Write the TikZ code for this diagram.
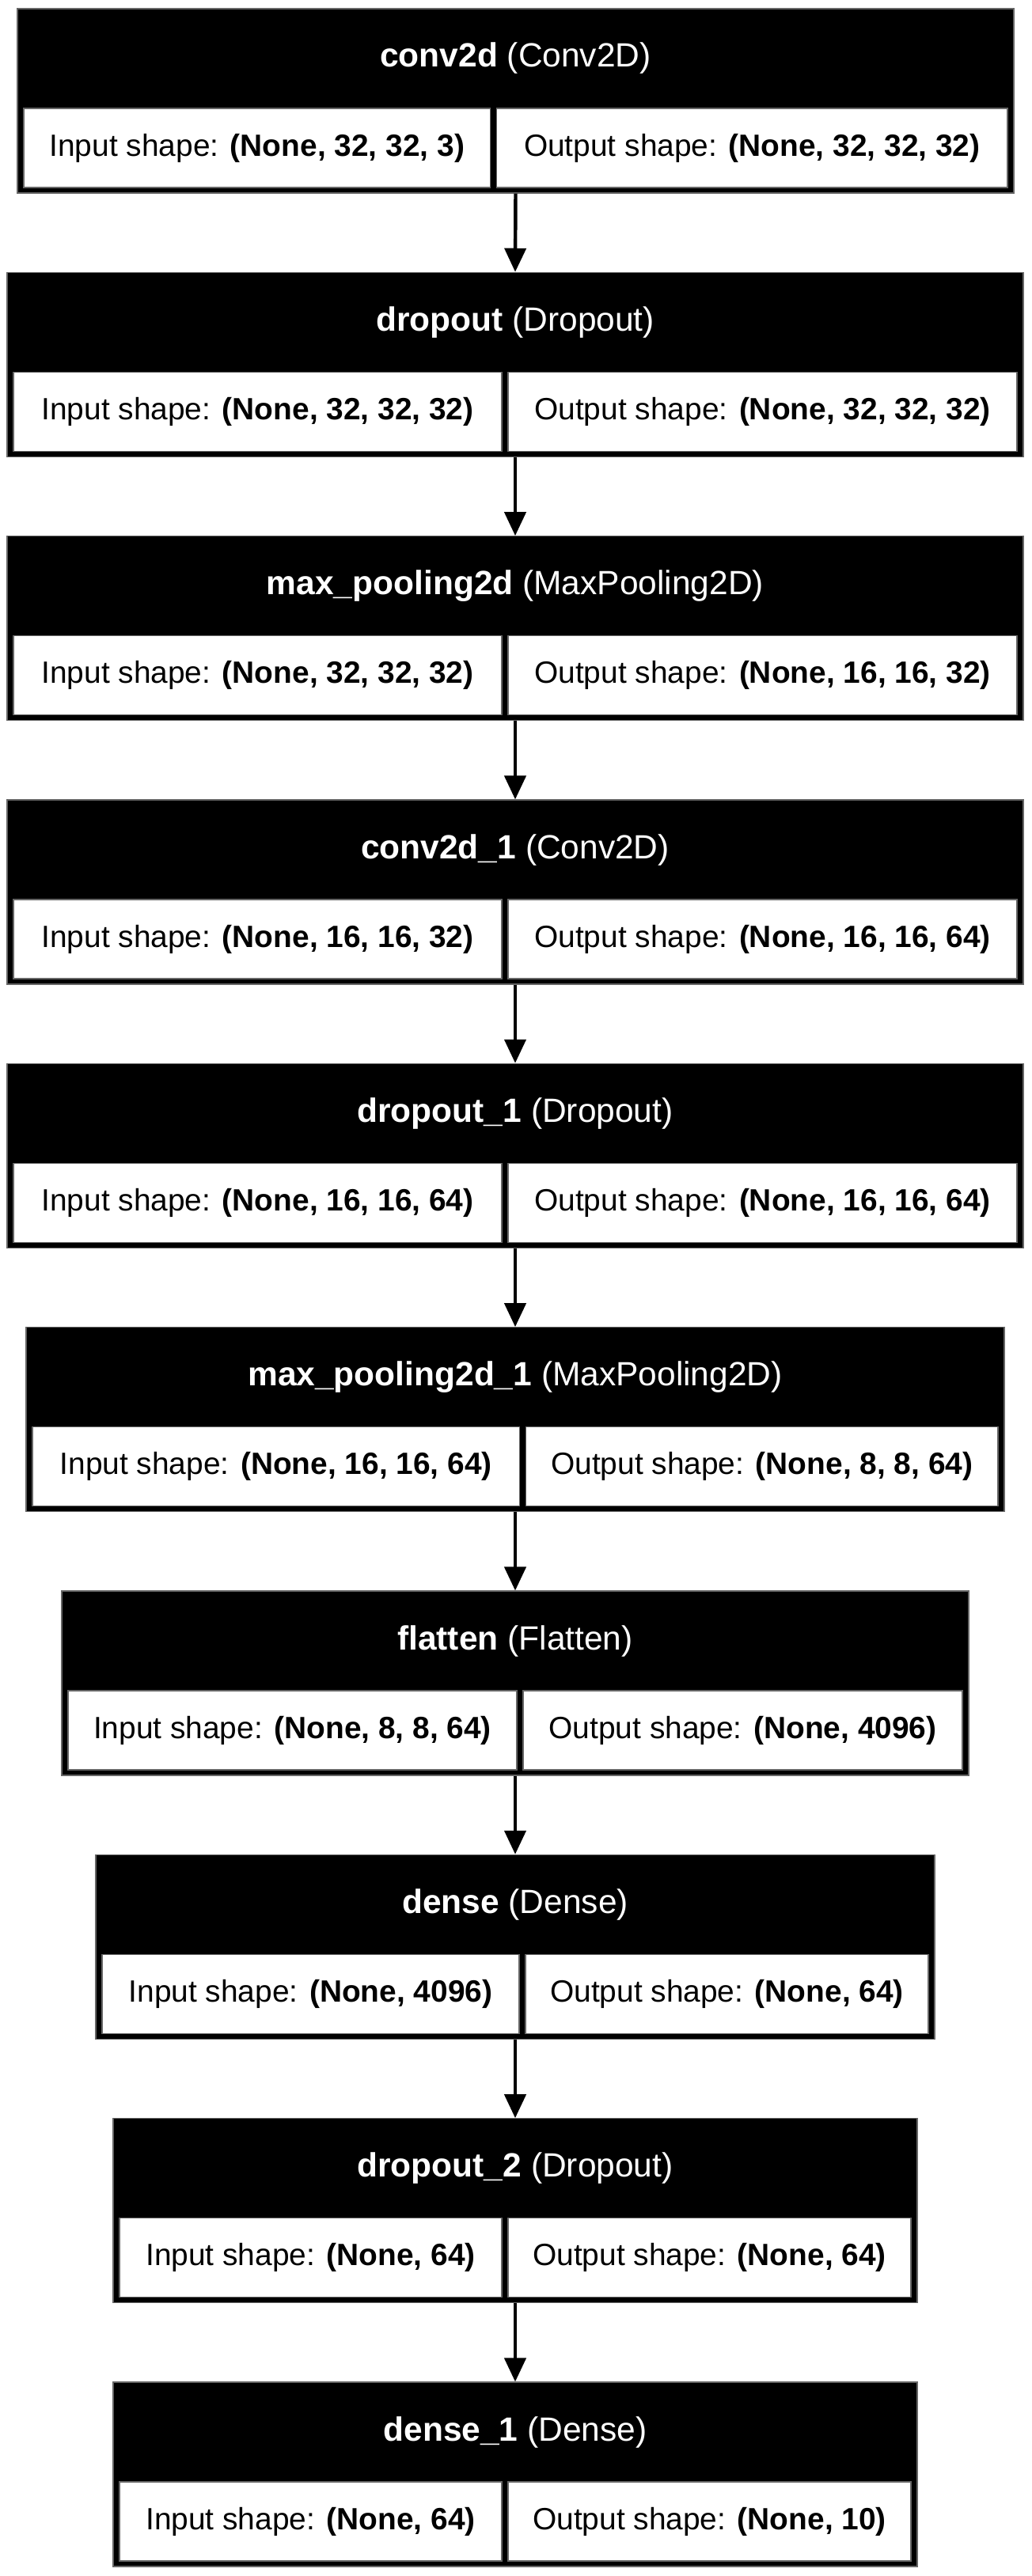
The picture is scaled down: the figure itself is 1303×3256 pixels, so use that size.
\documentclass[tikz,border=0pt]{standalone}
\usepackage{fontspec}
\setmainfont{Liberation Sans}
\usepackage{tikz}
\usetikzlibrary{arrows.meta}

\begin{document}
\begin{tikzpicture}[x=0.36pt,y=-0.36pt]
\tikzstyle{every node}+=[inner sep=0pt, font=\fontsize{14}{17}\selectfont]
\tikzstyle{layer}=[fill=black, draw=black!60, line width=0.4pt, minimum height=83.88pt]
\tikzstyle{head}=[text=white, font=\fontsize{15.3}{18}\selectfont]
\tikzstyle{inbox}=[fill=white, draw=black!60, line width=0.4pt, minimum height=36pt, anchor=south west]
\tikzstyle{outbox}=[fill=white, draw=black!60, line width=0.4pt, minimum height=36pt, anchor=south east]
\tikzstyle{flow}=[line width=1.6pt, -{Triangle[length=10.8pt,width=9.7pt]}]
\useasboundingbox (0,0) rectangle (1303,3256);
\node [layer, minimum width=453.24pt] (conv) at (651.5,127.5) {};
\node [head] (conv-t) at (651.5,74) {\textbf{conv2d} (Conv2D)};
\node [inbox, minimum width=212.22pt] (conv-in) at ([xshift=2.88pt,yshift=2.52pt]conv.south west) {Input shape: \textbf{(None, 32, 32, 3)}};
\node [outbox, minimum width=232.38pt] (conv-out) at ([xshift=-2.88pt,yshift=2.52pt]conv.south east) {Output shape: \textbf{(None, 32, 32, 32)}};
\node [layer, minimum width=462.24pt] (drop) at (651,460.8) {};
\node [head] (drop-t) at (651,407.3) {\textbf{dropout} (Dropout)};
\node [inbox, minimum width=222.12pt] (drop-in) at ([xshift=2.88pt,yshift=2.52pt]drop.south west) {Input shape: \textbf{(None, 32, 32, 32)}};
\node [outbox, minimum width=231.48pt] (drop-out) at ([xshift=-2.88pt,yshift=2.52pt]drop.south east) {Output shape: \textbf{(None, 32, 32, 32)}};
\node [layer, minimum width=462.24pt] (pool) at (651,794.2) {};
\node [head] (pool-t) at (651,740.7) {\textbf{max\_pooling2d} (MaxPooling2D)};
\node [inbox, minimum width=222.12pt] (pool-in) at ([xshift=2.88pt,yshift=2.52pt]pool.south west) {Input shape: \textbf{(None, 32, 32, 32)}};
\node [outbox, minimum width=231.48pt] (pool-out) at ([xshift=-2.88pt,yshift=2.52pt]pool.south east) {Output shape: \textbf{(None, 16, 16, 32)}};
\node [layer, minimum width=462.24pt] (conva) at (651,1127.5) {};
\node [head] (conva-t) at (651,1074) {\textbf{conv2d\_1} (Conv2D)};
\node [inbox, minimum width=222.12pt] (conva-in) at ([xshift=2.88pt,yshift=2.52pt]conva.south west) {Input shape: \textbf{(None, 16, 16, 32)}};
\node [outbox, minimum width=231.48pt] (conva-out) at ([xshift=-2.88pt,yshift=2.52pt]conva.south east) {Output shape: \textbf{(None, 16, 16, 64)}};
\node [layer, minimum width=462.24pt] (dropa) at (651,1460.8) {};
\node [head] (dropa-t) at (651,1407.3) {\textbf{dropout\_1} (Dropout)};
\node [inbox, minimum width=222.12pt] (dropa-in) at ([xshift=2.88pt,yshift=2.52pt]dropa.south west) {Input shape: \textbf{(None, 16, 16, 64)}};
\node [outbox, minimum width=231.48pt] (dropa-out) at ([xshift=-2.88pt,yshift=2.52pt]dropa.south east) {Output shape: \textbf{(None, 16, 16, 64)}};
\node [layer, minimum width=444.96pt] (poola) at (651,1794.2) {};
\node [head] (poola-t) at (651,1740.7) {\textbf{max\_pooling2d\_1} (MaxPooling2D)};
\node [inbox, minimum width=221.58pt] (poola-in) at ([xshift=2.88pt,yshift=2.52pt]poola.south west) {Input shape: \textbf{(None, 16, 16, 64)}};
\node [outbox, minimum width=214.74pt] (poola-out) at ([xshift=-2.88pt,yshift=2.52pt]poola.south east) {Output shape: \textbf{(None, 8, 8, 64)}};
\node [layer, minimum width=412.56pt] (flat) at (651,2127.5) {};
\node [head] (flat-t) at (651,2074) {\textbf{flatten} (Flatten)};
\node [inbox, minimum width=204.12pt] (flat-in) at ([xshift=2.88pt,yshift=2.52pt]flat.south west) {Input shape: \textbf{(None, 8, 8, 64)}};
\node [outbox, minimum width=199.8pt] (flat-out) at ([xshift=-2.88pt,yshift=2.52pt]flat.south east) {Output shape: \textbf{(None, 4096)}};
\node [layer, minimum width=381.6pt] (dense) at (651,2460.8) {};
\node [head] (dense-t) at (651,2407.3) {\textbf{dense} (Dense)};
\node [inbox, minimum width=189.72pt] (dense-in) at ([xshift=2.88pt,yshift=2.52pt]dense.south west) {Input shape: \textbf{(None, 4096)}};
\node [outbox, minimum width=183.24pt] (dense-out) at ([xshift=-2.88pt,yshift=2.52pt]dense.south east) {Output shape: \textbf{(None, 64)}};
\node [layer, minimum width=365.76pt] (dropb) at (651,2794.2) {};
\node [head] (dropb-t) at (651,2740.7) {\textbf{dropout\_2} (Dropout)};
\node [inbox, minimum width=173.88pt] (dropb-in) at ([xshift=2.88pt,yshift=2.52pt]dropb.south west) {Input shape: \textbf{(None, 64)}};
\node [outbox, minimum width=183.24pt] (dropb-out) at ([xshift=-2.88pt,yshift=2.52pt]dropb.south east) {Output shape: \textbf{(None, 64)}};
\node [layer, minimum width=365.76pt] (densea) at (651,3127.5) {};
\node [head] (densea-t) at (651,3074) {\textbf{dense\_1} (Dense)};
\node [inbox, minimum width=173.88pt] (densea-in) at ([xshift=2.88pt,yshift=2.52pt]densea.south west) {Input shape: \textbf{(None, 64)}};
\node [outbox, minimum width=183.24pt] (densea-out) at ([xshift=-2.88pt,yshift=2.52pt]densea.south east) {Output shape: \textbf{(None, 10)}};
\draw [flow] (conv.south) -- (drop.north);
\draw [flow] (drop.south) -- (pool.north);
\draw [flow] (pool.south) -- (conva.north);
\draw [flow] (conva.south) -- (dropa.north);
\draw [flow] (dropa.south) -- (poola.north);
\draw [flow] (poola.south) -- (flat.north);
\draw [flow] (flat.south) -- (dense.north);
\draw [flow] (dense.south) -- (dropb.north);
\draw [flow] (dropb.south) -- (densea.north);
\end{tikzpicture}
\end{document}
